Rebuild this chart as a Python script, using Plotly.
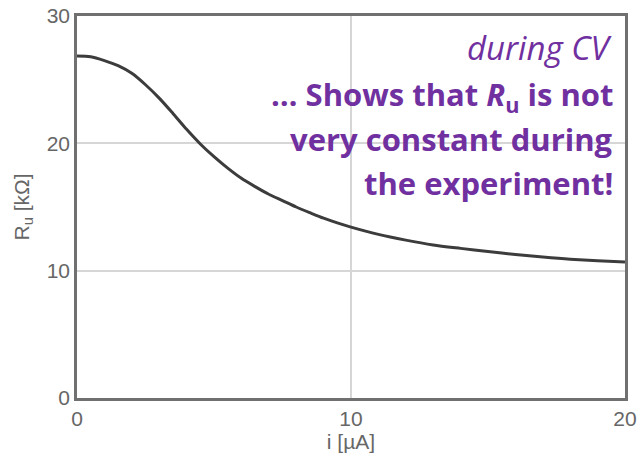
import plotly.graph_objects as go

current_uA = [0, 0.5, 1, 1.5, 2, 2.5, 3, 3.5, 4, 4.5, 5, 5.5, 6, 6.5, 7, 7.5, 8, 8.5, 9, 9.5,
              10, 11, 12, 13, 14, 15, 16, 17, 18, 19, 20]
ru_kohm = [26.85, 26.8, 26.5, 26.1, 25.5, 24.6, 23.55, 22.35, 21.1, 19.95, 18.95, 18.05, 17.25, 16.6,
           16.0, 15.5, 15.0, 14.55, 14.12, 13.75, 13.42, 12.85, 12.4, 12.02, 11.75, 11.5, 11.27,
           11.07, 10.9, 10.78, 10.68]
x_ticks = [0, 10, 20]
y_ticks = [0, 10, 20, 30]

purple = "#7030A0"
axis_col = "#707070"
label_col = "#666666"
font_txt = "Open Sans"
font_ax = "Liberation Sans"

fig = go.Figure()
fig.add_trace(go.Scatter(x=current_uA, y=ru_kohm, mode="lines",
                         line=dict(color="#3c3c3c", width=3, shape="spline", smoothing=0.8),
                         showlegend=False, hoverinfo="skip"))

fig.update_layout(
    width=640, height=457,
    margin=dict(l=77, r=15, t=16, b=59),
    paper_bgcolor="white", plot_bgcolor="white",
    font=dict(family=font_ax, color=label_col, size=21),
)
fig.update_xaxes(range=[0, 20], tickvals=x_ticks, showgrid=True, gridcolor="#d6d6d6", gridwidth=1.5,
                 showline=True, mirror=True, linecolor=axis_col, linewidth=2.5, zeroline=False,
                 automargin=False,
                 ticks="", ticklen=0, tickfont=dict(family=font_ax, size=21, color=label_col),
                 title=dict(text="i [µA]", standoff=0,
                            font=dict(family=font_ax, size=21, color=label_col)))
fig.update_yaxes(range=[0, 30], tickvals=y_ticks, showgrid=True, gridcolor="#d6d6d6", gridwidth=1.5,
                 showline=True, mirror=True, linecolor=axis_col, linewidth=2.5, zeroline=False,
                 automargin=False,
                 ticks="", ticklen=0, tickfont=dict(family=font_ax, size=21, color=label_col),
                 title=dict(text="R<sub>u</sub> [kΩ]", standoff=12,
                            font=dict(family=font_ax, size=21, color=label_col)))

lines = [
    ("<i>during CV</i>", 48, 33),
    ("<b>… Shows that <i>R</i><sub>u</sub> is not</b>", 96, 31),
    ("<b>very constant during</b>", 139, 31),
    ("<b>the experiment!</b>", 183, 31),
]
for text, ypx, size in lines:
    fig.add_annotation(text=text, xref="paper", yref="paper",
                       x=(614 - 77) / 548, y=1 - (ypx - 16) / 382,
                       xanchor="right", yanchor="middle", showarrow=False, borderpad=0,
                       font=dict(family=font_txt, size=size, color=purple))

fig.write_html("out.html")
